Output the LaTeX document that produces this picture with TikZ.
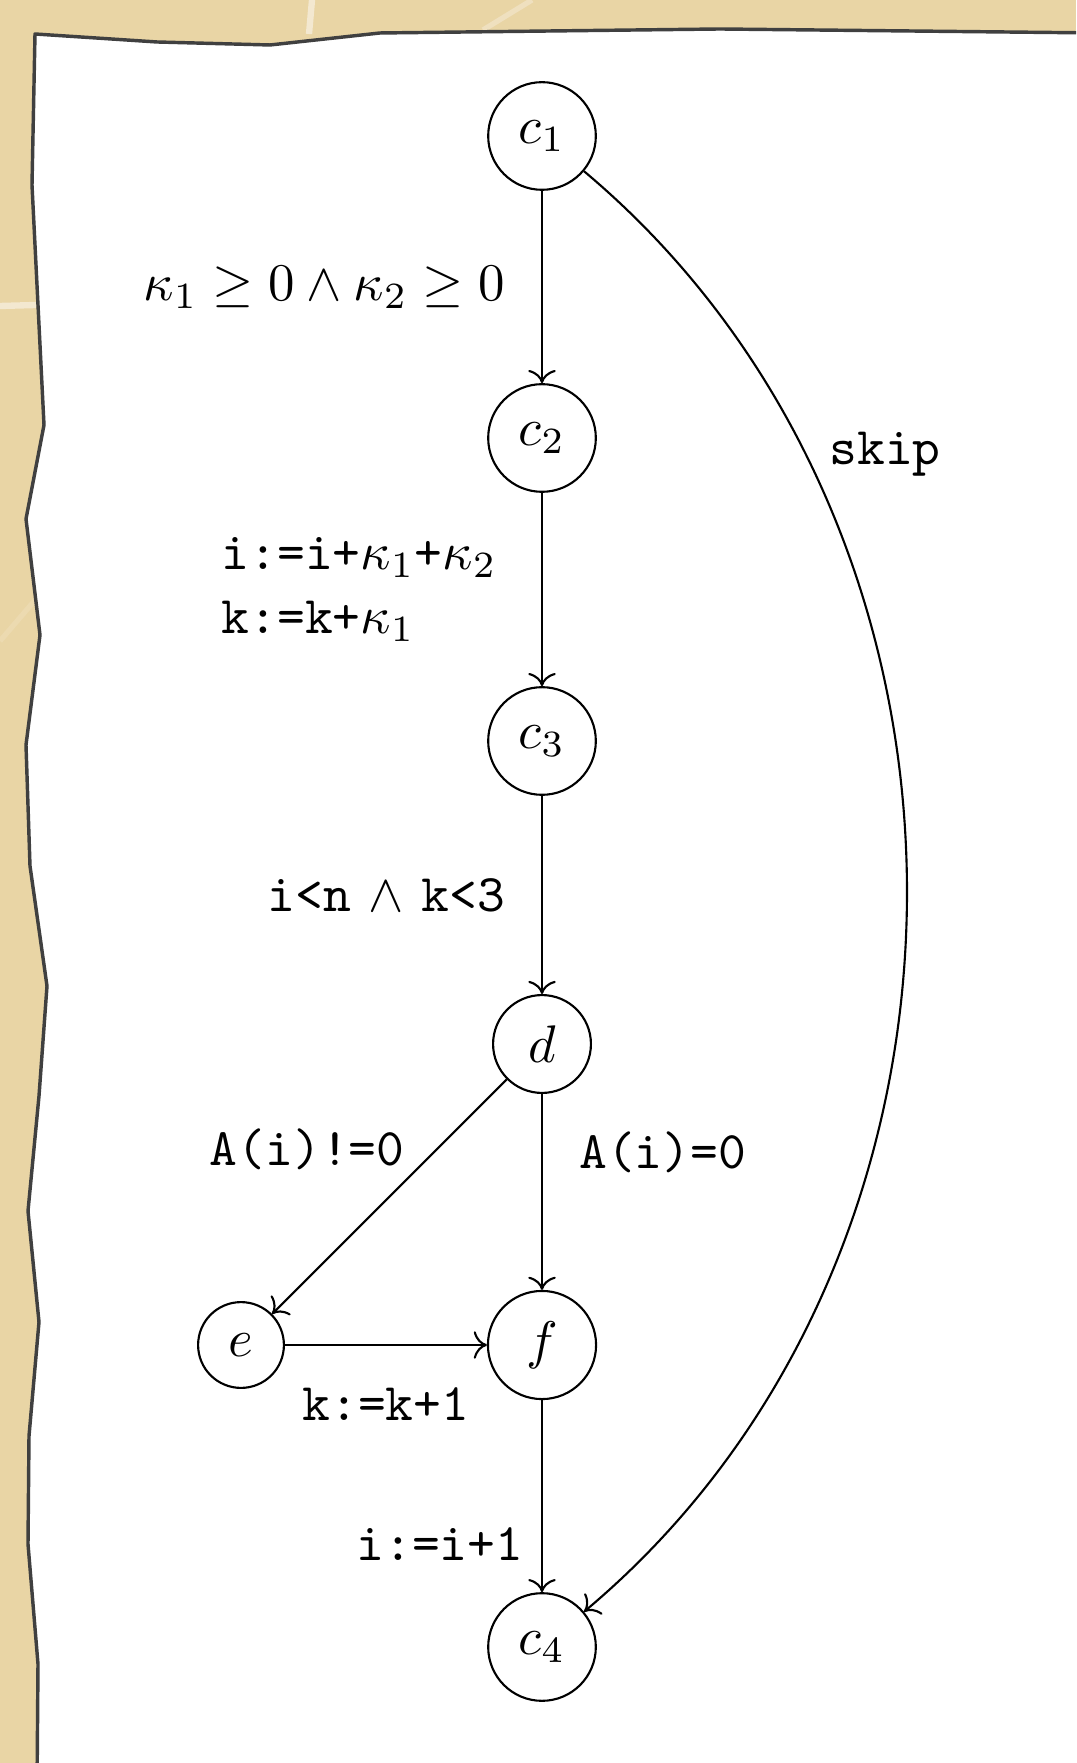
\documentclass[tikz,border=0pt]{standalone}
\usepackage{amsmath,amssymb}
\usetikzlibrary{arrows.meta,positioning}
\definecolor{paperbg}{RGB}{233,213,165}
\definecolor{paperline}{RGB}{243,232,208}
\definecolor{paperedge}{RGB}{64,64,64}
\tikzset{
  loc/.style={circle, draw, thin, inner sep=3.5pt},
  trans/.style={->},
  papr/.style={fill=white, draw=paperedge, line width=0.65pt, line join=round},
}

\begin{document}
\begin{tikzpicture}[x=0.189pt,y=-0.189pt]
  \useasboundingbox (0,0) rectangle (1076,1763);
  % sheet on the desk
  \begin{scope}
    \clip (0,0) rectangle (1076,1763);
    \fill[paperbg] (0,0) rectangle (1076,1763);
    \draw[paperline, line width=1.2pt] (312,0) -- (309,34);
    \draw[paperline, line width=1.2pt] (0,306) -- (36,305);
    \draw[paperline!60!paperbg, line width=1pt] (483,30) -- (532,0);
    \draw[paperline!25!paperbg, line width=1pt] (0,641) -- (42,592);
    \draw[papr] (35,34) -- (157,42) -- (270,45) -- (380,33) -- (720,29) -- (1100,33)
      -- (1100,1790) -- (37,1790) -- (38,1664) -- (28,1544) -- (29,1436) -- (39,1322)
      -- (28,1211) -- (39,1096) -- (47,986) -- (30,866) -- (26,745) -- (40,635)
      -- (26,519) -- (44,425) -- (32,185) -- cycle;
  \end{scope}

  \node[loc] (c1) at (542,136) {$c_1$};
  \node[loc] (c2) at (542,438) {$c_2$};
  \node[loc] (c3) at (542,741) {$c_3$};
  \node[loc] (d) at (542,1044) {$d$};
  \node[loc] (e) at (241,1345) {$e$};
  \node[loc] (f) at (542,1345) {$f$};
  \node[loc] (c4) at (542,1647) {$c_4$};

  \draw[trans] (c1) -- node[left=3.5pt] (g1) {$\kappa_1 \geq 0 \wedge \kappa_2 \geq 0$} (c2);
  \draw[trans] (c2) -- node[left=5pt, align=left] (a1)
    {\texttt{i:=i+}$\kappa_1$\texttt{+}$\kappa_2$\\\texttt{k:=k+}$\kappa_1$} (c3);
  \draw[trans] (c3) -- node[left=3.5pt] (g2) {\texttt{i<n} $\wedge$ \texttt{k<3}} (d);
  \draw[trans] (d) -- node[pos=0.3, left=2.5pt] (g3) {\texttt{A(i)!=0}} (e);
  \draw[trans] (d) -- node[pos=0.3, right=3.5pt] (g4) {\texttt{A(i)=0}} (f);
  \draw[trans] (e) -- node[below=4.5pt] (a2) {\texttt{k:=k+1}} (f);
  \draw[trans] (f) -- node[pos=0.75, left] (a3) {\texttt{i:=i+1}} (c4);
  \draw[trans] (c1) to[bend left=50] node[pos=0.22, right=1pt] (sk) {\texttt{skip}} (c4);
\end{tikzpicture}
\end{document}
